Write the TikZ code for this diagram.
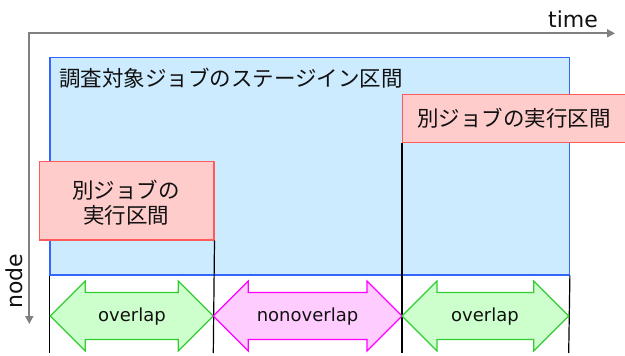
\documentclass[tikz,border=0pt]{standalone}
\usepackage{fontspec}
\setmainfont{DejaVu Sans}
\newfontfamily\jp{Noto Sans CJK JP}
\usetikzlibrary{arrows.meta}
\definecolor{bfill}{HTML}{CCEBFF}
\definecolor{bline}{HTML}{3366FF}
\definecolor{rfill}{HTML}{FFCCCC}
\definecolor{rline}{HTML}{FF5B5B}
\definecolor{gfill}{HTML}{CCFFCC}
\definecolor{gline}{HTML}{33CC33}
\definecolor{mfill}{HTML}{FFCCFF}
\definecolor{mline}{HTML}{FF00FF}
\definecolor{axisgray}{HTML}{808080}
\definecolor{txt}{HTML}{111111}
\tikzset{
  box/.style={rectangle, inner sep=0pt, anchor=north west, line width=1.2pt},
  bluebox/.style={box, fill=bfill, draw=bline},
  redbox/.style={box, fill=rfill, draw=rline},
  divider/.style={draw=black, line width=1.2pt},
  garrow/.style={fill=gfill, draw=gline, line width=1.2pt, line join=miter},
  marrow/.style={fill=mfill, draw=mline, line width=1.2pt, line join=miter},
  jplabel/.style={font=\jp\fontsize{21.5}{25}\selectfont, text=txt, inner sep=0pt, align=center},
  arlabel/.style={font=\fontsize{18}{20}\selectfont, text=txt, inner sep=0pt},
  axlabel/.style={font=\fontsize{22}{24}\selectfont, text=txt, inner sep=0pt},
  axis/.style={draw=axisgray, line width=1.8pt, {Triangle[length=8pt,width=8pt]}-{Triangle[length=8pt,width=8pt]}}
}
\newcommand{\dblarrow}[3]{%
  \path[#3] (#1,316) -- (#1+35,281) -- (#1+35,292.5) -- (#2-35,292.5) -- (#2-35,281)
    -- (#2,316) -- (#2-35,351) -- (#2-35,339.5) -- (#1+35,339.5) -- (#1+35,351) -- cycle;}
\begin{document}
\begin{tikzpicture}[x=1pt,y=-1pt]
\useasboundingbox (0,0) rectangle (625,356);
\clip (0,0) rectangle (625,356);
% stage-in interval
\node[bluebox, minimum width=519.4pt, minimum height=217.6pt] (stage) at (49.3,56.7) {};
\node[jplabel, anchor=west] (stitle) at (59,78) {調査対象ジョブのステージイン区間};
% divider lines
\coordinate (b1) at (49.3,353);
\coordinate (b2) at (213.3,353);
\coordinate (b3) at (402,353);
\coordinate (b4) at (568.7,353);
\draw[divider] (stage.south west) -- (b1);
\draw[divider] (stage.south east) -- (b4);
% other job boxes
\node[redbox, minimum width=174.3pt, minimum height=78.6pt] (job1) at (39,160.7) {};
\node[jplabel] (job1t) at (126,202.5) {別ジョブの\\実行区間};
\node[redbox, minimum width=240pt, minimum height=48pt] (job2) at (402,94) {};
\node[jplabel] (job2t) at (514,118) {別ジョブの実行区間};
\draw[divider] (job1.south east) -- (b2);
\draw[divider] (job2.south west) -- (b3);
% axes
\coordinate (ytip) at (29.3,324);
\coordinate (origin) at (29.3,33.3);
\coordinate (xtip) at (615,33.3);
\draw[axis] (ytip) -- (origin) -- (xtip);
\node[axlabel] (time) at (573,19) {time};
\node[axlabel, rotate=90] (nodelbl) at (14,281) {node};
% overlap arrows
\dblarrow{50.3}{213.3}{garrow}
\dblarrow{213.3}{402}{marrow}
\dblarrow{402}{568.7}{garrow}
\node[arlabel] (ov1) at (132,317) {overlap};
\node[arlabel] (nov) at (307.5,317) {nonoverlap};
\node[arlabel] (ov2) at (485,317) {overlap};
\end{tikzpicture}
\end{document}
